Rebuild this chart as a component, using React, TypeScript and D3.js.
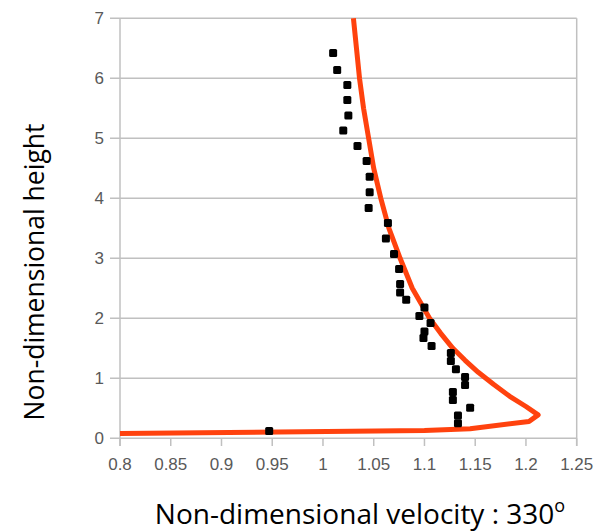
import React from "react";
import * as d3 from "d3";

const xTicks = [0.8, 0.85, 0.9, 0.95, 1, 1.05, 1.1, 1.15, 1.2, 1.25];
const yTicks = [0, 1, 2, 3, 4, 5, 6, 7];

// measured points (velocity, height)
const pointVelocity = [0.947, 1.133, 1.133, 1.145, 1.128, 1.128, 1.14, 1.14, 1.131, 1.126, 1.126, 1.107, 1.099, 1.1, 1.106, 1.095, 1.1, 1.082, 1.076, 1.076, 1.075, 1.07, 1.062, 1.064, 1.045, 1.046, 1.046, 1.043, 1.034, 1.02, 1.025, 1.024, 1.024, 1.014, 1.01];
const pointHeight = [0.12, 0.25, 0.38, 0.51, 0.64, 0.77, 0.89, 1.02, 1.15, 1.29, 1.42, 1.54, 1.67, 1.78, 1.92, 2.04, 2.18, 2.31, 2.43, 2.57, 2.82, 3.07, 3.33, 3.59, 3.84, 4.1, 4.36, 4.62, 4.87, 5.13, 5.38, 5.64, 5.89, 6.14, 6.42];

// model curve (velocity, height)
const lineVelocity = [0.8, 1.1, 1.145, 1.203, 1.212, 1.2, 1.184, 1.168, 1.153, 1.14, 1.128, 1.116, 1.105, 1.088, 1.076, 1.065, 1.057, 1.05, 1.045, 1.04, 1.036, 1.033, 1.03];
const lineHeight = [0.08, 0.13, 0.16, 0.28, 0.39, 0.53, 0.7, 0.9, 1.1, 1.3, 1.5, 1.75, 2.0, 2.5, 3.0, 3.5, 4.0, 4.5, 5.0, 5.5, 6.0, 6.5, 7.0];

export default function App() {
  const x = d3.scaleLinear().domain([0.8, 1.25]).range([120, 576.7]);
  const y = d3.scaleLinear().domain([0, 7]).range([438.3, 18.3]);
  const grid = "#c0c0c0";
  const lineData = lineVelocity.map((v, i) => [v, lineHeight[i]] as [number, number]);
  const path = d3
    .line<[number, number]>()
    .x((d) => x(d[0]))
    .y((d) => y(d[1]))
    .curve(d3.curveLinear)(lineData);
  const fmt = (v: number) => d3.format("")(+v.toFixed(2));
  return (
    <svg width={604} height={531} style={{ position: "absolute", left: 0, top: 0, background: "#fff" }}>
      {yTicks.map((t) => (
        <g key={"y" + t}>
          <line x1={110} x2={x(1.25)} y1={y(t)} y2={y(t)} stroke={grid} strokeWidth={1.5} />
          <text x={104} y={y(t) + 6} textAnchor="end" fontFamily="Liberation Sans, Arial, sans-serif" fontSize={17} fill="#595959">
            {t}
          </text>
        </g>
      ))}
      <line x1={x(0.8)} x2={x(0.8)} y1={y(7)} y2={446} stroke={grid} strokeWidth={1.5} />
      <line x1={x(1.25)} x2={x(1.25)} y1={y(7)} y2={446} stroke={grid} strokeWidth={1.5} />
      {xTicks.map((t) => (
        <g key={"x" + t}>
          <line x1={x(t)} x2={x(t)} y1={y(0)} y2={446} stroke={grid} strokeWidth={1.5} />
          <text x={x(t)} y={470} textAnchor="middle" fontFamily="Liberation Sans, Arial, sans-serif" fontSize={17} fill="#595959">
            {fmt(t)}
          </text>
        </g>
      ))}
      <path d={path || ""} fill="none" stroke="#ff420e" strokeWidth={5} strokeLinejoin="round" />
      {pointVelocity.map((v, i) => (
        <rect key={"p" + i} x={x(v) - 4} y={y(pointHeight[i]) - 4} width={8} height={8} rx={1.5} fill="#000" />
      ))}
      <text
        transform={`translate(44, 272) rotate(-90)`}
        textAnchor="middle"
        fontFamily="Open Sans, sans-serif"
        fontSize={26.5}
        fill="#000"
      >
        Non-dimensional height
      </text>
      <text x={360} y={524} textAnchor="middle" fontFamily="Open Sans, sans-serif" fontSize={28} fill="#000">
        Non-dimensional velocity : 330
        <tspan dy={-12} fontSize={18}>o</tspan>
      </text>
    </svg>
  );
}
